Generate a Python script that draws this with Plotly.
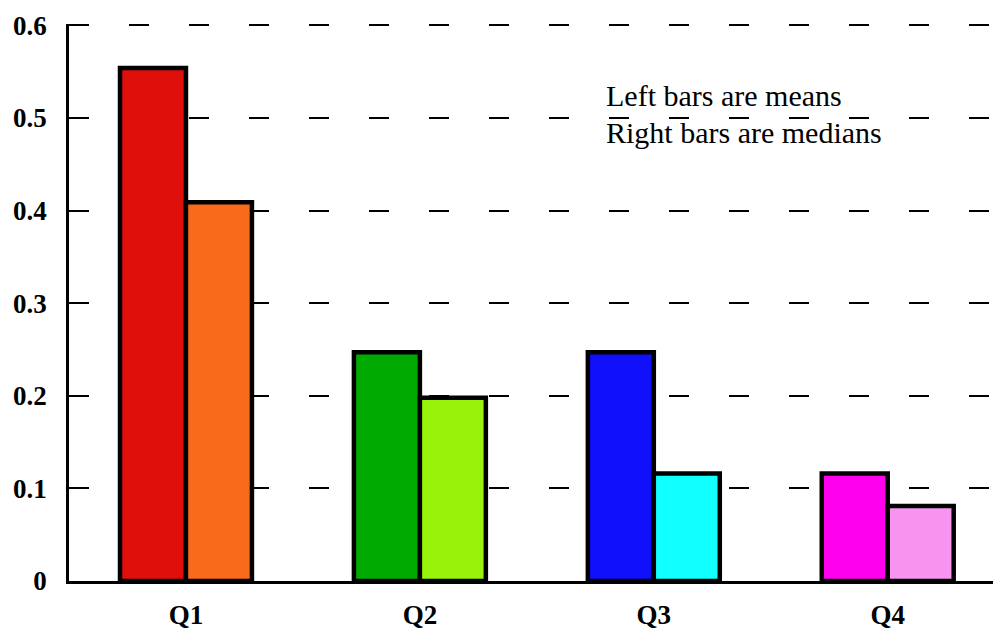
import plotly.graph_objects as go

categories = ["Q1", "Q2", "Q3", "Q4"]
means = [0.554, 0.247, 0.247, 0.116]
medians = [0.409, 0.198, 0.116, 0.081]
mean_colors = ["#DF0F0B", "#00AA00", "#0F0FFA", "#FF00EE"]
median_colors = ["#F96A1A", "#99F20A", "#11FFFF", "#F794F0"]
y_tickvals = [0, 0.1, 0.2, 0.3, 0.4, 0.5, 0.6]
y_ticktext = ["0", "0.1", "0.2", "0.3", "0.4", "0.5", "0.6"]
notes = ["Left bars are means", "Right bars are medians"]

BW = 0.282
fig = go.Figure()
fig.add_trace(go.Bar(x=categories, y=means, width=BW, offset=-BW,
                     marker=dict(color=mean_colors, line=dict(color="black", width=4.5)),
                     showlegend=False))
fig.add_trace(go.Bar(x=categories, y=medians, width=BW, offset=0,
                     marker=dict(color=median_colors, line=dict(color="black", width=4.5)),
                     showlegend=False))

SERIF = "'Liberation Serif', 'Times New Roman', 'DejaVu Serif', serif"
tick_font = dict(family=SERIF, size=27, color="black", weight="bold")

fig.update_layout(
    width=993, height=635,
    margin=dict(l=69, r=0, t=24, b=54, autoexpand=False),
    paper_bgcolor="white", plot_bgcolor="white",
    barmode="overlay",
    xaxis=dict(range=[-0.5, 3.45], showgrid=False, zeroline=False, automargin=False,
               showline=True, linecolor="black", linewidth=2.5,
               ticks="", tickfont=tick_font, ticklabelstandoff=8),
    yaxis=dict(range=[0, 0.6015], tickvals=y_tickvals, ticktext=y_ticktext, automargin=False,
               showgrid=True, gridcolor="black", gridwidth=2, griddash="20px,40px",
               zeroline=False, showline=True, linecolor="black", linewidth=2.5,
               ticks="", tickfont=tick_font, ticklabelstandoff=14),
)

note_font = dict(family=SERIF, size=30, color="black")
for txt, yp in zip(notes, [0.871, 0.805]):
    fig.add_annotation(text=txt, xref="paper", yref="paper", x=0.579, y=yp,
                       xanchor="left", yanchor="middle", showarrow=False, font=note_font)

fig.write_html("out.html", config={"displayModeBar": False},
               post_script="document.body.style.margin='0px';document.body.style.overflow='hidden';")
